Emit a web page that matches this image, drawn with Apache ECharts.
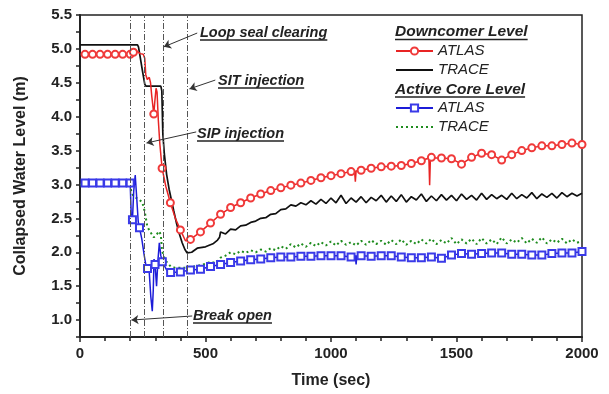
<!DOCTYPE html>
<html><head><meta charset="utf-8">
<script src="https://cdn.jsdelivr.net/npm/echarts@6/dist/echarts.min.js"></script>
<style>html,body{margin:0;padding:0;background:#fff}#c{width:609px;height:394px}</style>
</head><body><div id="c"></div>
<script>
// ---------- DATA ----------
// Downcomer level, ATLAS (points drawn with circle markers)
const dcAtlasT = [20,50,80,110,140,170,200,213,294,327,360,400,440,480,520,560,600,640,680,720,760,800,840,880,920,960,1000,1040,1080,1120,1160,1200,1240,1280,1320,1360,1400,1440,1480,1520,1560,1600,1640,1680,1720,1760,1800,1840,1880,1920,1960,2000];
const dcAtlasV = [4.92,4.92,4.92,4.92,4.92,4.92,4.92,4.95,4.04,3.24,2.73,2.33,2.19,2.30,2.43,2.56,2.66,2.73,2.80,2.86,2.91,2.95,2.99,3.02,3.06,3.10,3.13,3.16,3.19,3.21,3.24,3.26,3.27,3.28,3.31,3.35,3.40,3.39,3.38,3.30,3.40,3.46,3.44,3.36,3.44,3.50,3.54,3.57,3.57,3.59,3.61,3.59];
// Downcomer level, ATLAS (line-only samples between markers)
const dcAtlasLineT = [225,240,252,258,262,268,276,281,286,298,303,307,312,318,342,380,420,1094,1097,1100,1390,1393,1396];
const dcAtlasLineV = [4.97,4.93,4.92,4.86,4.62,4.55,4.58,4.50,4.30,4.22,4.42,4.36,3.95,3.60,2.97,2.50,2.17,3.20,3.04,3.20,3.39,2.99,3.39];
// Downcomer level, TRACE
const dcTraceT = [0,229,233,238,250,258,263,322,326,330,336,345,355,373,385,396,407,418,427,445,467,500,532,548,556,
 560,580,600,620,640,660,680,700,720,740,760,780,800,820,840,860,880,900,920,940,960,980,1000,1020,1040,1060,1080,1100,1120,1140,1160,1180,1200,1220,1240,1260,1280,1300,1320,1340,1360,1380,1400,1420,1440,1460,1480,1500,1520,1540,1560,1580,1600,1620,1640,1660,1680,1700,1720,1740,1760,1780,1800,1820,1840,1860,1880,1900,1920,1940,1960,1980,2000];
const dcTraceV = [5.06,5.06,5.03,4.92,4.65,4.48,4.45,4.45,4.38,3.75,3.45,3.15,2.93,2.62,2.42,2.27,2.14,2.04,1.99,2.00,2.06,2.08,2.13,2.18,2.22,
 2.30,2.27,2.34,2.33,2.39,2.40,2.44,2.46,2.50,2.51,2.56,2.57,2.63,2.64,2.70,2.68,2.73,2.70,2.76,2.71,2.78,2.72,2.80,2.73,2.84,2.72,2.80,2.74,2.82,2.73,2.81,2.76,2.84,2.74,2.83,2.75,2.85,2.74,2.82,2.77,2.86,2.75,2.83,2.76,2.85,2.77,2.84,2.76,2.86,2.78,2.84,2.77,2.87,2.78,2.85,2.79,2.84,2.78,2.87,2.79,2.85,2.80,2.88,2.79,2.86,2.81,2.87,2.80,2.88,2.82,2.87,2.83,2.87];
// Active core level, ATLAS (square markers)
const coreAtlasT = [20,50,80,110,140,170,200,209,237,269,299,328,361,400,440,480,520,560,600,640,680,720,760,800,840,880,920,960,1000,1040,1080,1120,1160,1200,1240,1280,1320,1360,1400,1440,1480,1520,1560,1600,1640,1680,1720,1760,1800,1840,1880,1920,1960,2000];
const coreAtlasV = [3.02,3.02,3.02,3.02,3.02,3.02,3.02,2.48,2.36,1.76,1.82,1.86,1.70,1.71,1.74,1.75,1.79,1.82,1.85,1.87,1.89,1.90,1.92,1.93,1.93,1.94,1.94,1.95,1.95,1.95,1.93,1.95,1.94,1.95,1.95,1.93,1.92,1.92,1.93,1.91,1.96,1.98,1.97,1.98,1.99,1.99,1.97,1.97,1.96,1.96,1.98,1.99,1.99,2.01];
// Active core level, ATLAS (line-only samples)
const coreAtlasLineT = [204,214,220,226,232,246,256,262,276,282,288,292,295,305,310,316,322,345,1097,1100,1103];
const coreAtlasLineV = [2.55,2.90,3.14,2.80,2.45,2.20,1.95,1.82,1.70,1.35,1.13,1.45,1.90,1.50,1.85,2.14,1.95,1.74,1.95,1.82,1.95];
// Active core level, TRACE
const coreTraceT = [0,200,205,215,230,248,258,268,280,294,305,315,322,327,340,361,380,400,430,467,500,520,540,560,580,
 600,620,640,660,680,700,720,740,760,780,800,820,840,860,880,900,920,940,960,980,1000,1020,1040,1060,1080,1100,1120,1140,1160,1180,1200,1220,1240,1260,1280,1300,1320,1340,1360,1380,1400,1420,1440,1460,1480,1500,1520,1540,1560,1580,1600,1620,1640,1660,1680,1700,1720,1740,1760,1780,1800,1820,1840,1860,1880,1900,1920,1940,1960,1980,2000];
const coreTraceV = [3.00,3.00,2.88,2.82,2.79,2.74,2.60,2.38,2.30,2.22,2.26,2.31,2.26,2.02,1.88,1.79,1.77,1.77,1.77,1.80,1.83,1.86,1.84,1.92,1.95,
 2.00,1.97,2.02,1.99,2.03,2.00,2.04,2.01,2.06,2.03,2.09,2.05,2.12,2.07,2.13,2.08,2.14,2.09,2.15,2.10,2.16,2.10,2.17,2.11,2.15,2.10,2.17,2.11,2.18,2.12,2.17,2.11,2.18,2.12,2.19,2.11,2.17,2.12,2.19,2.13,2.20,2.12,2.18,2.13,2.21,2.12,2.19,2.13,2.20,2.12,2.21,2.13,2.19,2.12,2.22,2.13,2.19,2.14,2.21,2.13,2.20,2.14,2.22,2.13,2.19,2.14,2.20,2.13,2.19,2.14,2.17];
// Event times (vertical dash-dot lines)
const eventTimes = [200, 257, 330, 428];
const eventLabels = ['Loop seal clearing', 'SIT injection', 'SIP injection', 'Break open'];
const xTicks = [0, 500, 1000, 1500, 2000];
const yTicks = [1.0, 1.5, 2.0, 2.5, 3.0, 3.5, 4.0, 4.5, 5.0, 5.5];

// ---------- BUILD ----------
const FF = '"Liberation Sans", Arial, sans-serif';
function pairs(T, V) { return T.map((t, i) => [t, V[i]]); }
function merged(mT, mV, lT, lV) {
  const a = mT.map((t, i) => ({ value: [t, mV[i]] }));
  const b = lT.map((t, i) => ({ value: [t, lV[i]], symbol: 'none' }));
  return a.concat(b).sort((p, q) => p.value[0] - q.value[0]);
}
const ctx = document.createElement('canvas').getContext('2d');
function tw(s, font) { ctx.font = font; return ctx.measureText(s).width; }

// annotation layout (pixel text anchors) and arrows (data coords)
const annFont = 'italic bold 14.5px ' + FF;
const annPos = [[200, 33], [218, 81], [197, 134], [193, 316]];
const arrows = [
  [[467, 5.234], [334, 5.03]],
  [[539, 4.54], [436, 4.41]],
  [[463, 3.775], [265, 3.612]],
  [[447, 1.06], [205, 1.0]]
];
const headFont = 'italic bold 15.5px ' + FF;
const heads = [['Downcomer Level', 395, 32], ['Active Core Level', 395, 89.5]];

const graphic = [];
eventLabels.forEach((s, i) => {
  const [x, y] = annPos[i];
  graphic.push({ type: 'text', x: x, y: y, style: { text: s, font: annFont, fill: '#222', align: 'left', verticalAlign: 'middle' } });
  const w = tw(s, annFont);
  graphic.push({ type: 'line', shape: { x1: x, y1: y + 7, x2: x + w, y2: y + 7 }, style: { stroke: '#222', lineWidth: 1.5 } });
});
heads.forEach(([s, x, y]) => {
  graphic.push({ type: 'text', x: x, y: y, style: { text: s, font: headFont, fill: '#222', align: 'left', verticalAlign: 'middle' } });
  const w = tw(s, headFont);
  graphic.push({ type: 'line', shape: { x1: x, y1: y + 7.5, x2: x + w, y2: y + 7.5 }, style: { stroke: '#222', lineWidth: 1.5 } });
});

const chart = echarts.init(document.getElementById('c'), null, { renderer: 'canvas' });
const legendBase = {
  orient: 'vertical', left: 395, itemWidth: 37, itemHeight: 9, itemGap: 4, padding: 0,
  textStyle: { fontSize: 15, fontStyle: 'italic', color: '#222', fontFamily: FF, padding: [0, 0, 0, 0] },
  formatter: n => n.trim()
};
const noSym = { opacity: 0, borderWidth: 0 };
chart.setOption({
  animation: false,
  backgroundColor: '#fff',
  grid: { left: 80, right: 27, top: 15, bottom: 56.5, show: true, borderColor: '#222', borderWidth: 1.5, containLabel: false },
  legend: [
    Object.assign({}, legendBase, { top: 43.5, data: ['ATLAS', { name: 'TRACE', itemStyle: noSym }] }),
    Object.assign({}, legendBase, { top: 100.5, data: ['ATLAS ', { name: 'TRACE ', itemStyle: noSym }] })
  ],
  xAxis: {
    type: 'value', min: xTicks[0], max: xTicks[xTicks.length - 1], interval: 500,
    name: 'Time (sec)', nameLocation: 'middle', nameGap: 36,
    nameTextStyle: { fontSize: 16, fontWeight: 'bold', color: '#222', fontFamily: FF },
    axisLine: { lineStyle: { color: '#222', width: 2 } },
    axisTick: { show: true, inside: false, length: 5, lineStyle: { color: '#222', width: 1.5 } },
    minorTick: { show: true, splitNumber: 5, length: 4, lineStyle: { color: '#222', width: 1.5 } },
    axisLabel: { fontSize: 15, fontWeight: 'bold', color: '#222', fontFamily: FF, margin: 9, formatter: v => String(v) },
    splitLine: { show: false }
  },
  yAxis: {
    type: 'value', min: 0.75, max: yTicks[yTicks.length - 1], interval: 0.25,
    name: 'Collapsed Water Level (m)', nameLocation: 'middle', nameGap: 51,
    nameTextStyle: { fontSize: 16, fontWeight: 'bold', color: '#222', fontFamily: FF },
    axisLine: { show: true, lineStyle: { color: '#222', width: 2 } },
    axisTick: { show: true, inside: false, length: 4, lineStyle: { color: '#222', width: 1.5 } },
    axisLabel: {
      fontSize: 15, fontWeight: 'bold', color: '#222', fontFamily: FF, margin: 8,
      formatter: v => (yTicks.some(t => Math.abs(t - v) < 1e-6) ? v.toFixed(1) : '')
    },
    splitLine: { show: false }
  },
  graphic: graphic,
  series: [
    {
      name: 'TRACE', type: 'line', data: pairs(dcTraceT, dcTraceV), showSymbol: false, symbol: 'none',
      lineStyle: { color: '#111', width: 1.7 }, itemStyle: { color: '#111' }, z: 3,
      markLine: {
        silent: true, symbol: ['none', 'none'], label: { show: false },
        lineStyle: { color: '#555', width: 1, type: [6, 2, 1, 2] },
        data: eventTimes.map(t => ({ xAxis: t }))
      }
    },
    {
      name: 'ATLAS', type: 'line', data: merged(dcAtlasT, dcAtlasV, dcAtlasLineT, dcAtlasLineV),
      symbol: 'emptyCircle', symbolSize: 7, showAllSymbol: true,
      lineStyle: { color: '#e82424', width: 1.5 }, itemStyle: { color: '#f03a3a', borderColor: '#f03a3a', borderWidth: 1.2 }, z: 4
    },
    {
      name: 'TRACE ', type: 'line', data: pairs(coreTraceT, coreTraceV), showSymbol: false, symbol: 'none',
      lineStyle: { color: '#1e8c1e', width: 2, type: [2, 3] }, itemStyle: { color: '#1e8c1e' }, z: 3,
      markLine: {
        silent: true, symbol: ['none', 'arrow'], symbolSize: 7, label: { show: false },
        lineStyle: { color: '#333', width: 1, type: 'solid' },
        data: arrows.map(a => [{ coord: a[0] }, { coord: a[1] }])
      }
    },
    {
      name: 'ATLAS ', type: 'line', data: merged(coreAtlasT, coreAtlasV, coreAtlasLineT, coreAtlasLineV),
      symbol: 'emptyRect', symbolSize: 7, showAllSymbol: true,
      lineStyle: { color: '#1c1cd8', width: 1.5 }, itemStyle: { color: '#3a3ae8', borderColor: '#3a3ae8', borderWidth: 1.2 }, z: 4
    }
  ]
});
</script></body></html>
